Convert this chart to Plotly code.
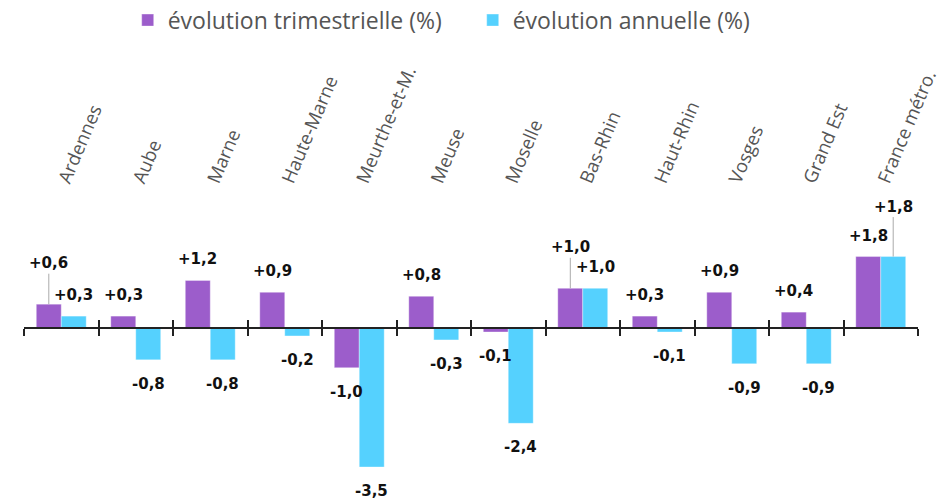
import plotly.graph_objects as go

categories = ["Ardennes", "Aube", "Marne", "Haute-Marne", "Meurthe-et-M.", "Meuse",
              "Moselle", "Bas-Rhin", "Haut-Rhin", "Vosges", "Grand Est", "France métro."]
evol_trim = [0.6, 0.3, 1.2, 0.9, -1.0, 0.8, -0.1, 1.0, 0.3, 0.9, 0.4, 1.8]
evol_annu = [0.3, -0.8, -0.8, -0.2, -3.5, -0.3, -2.4, 1.0, -0.1, -0.9, -0.9, 1.8]
series_names = ["évolution trimestrielle (%)", "évolution annuelle (%)"]

PURPLE = "#9c5dcb"
CYAN = "#55d1fe"
Y_RANGE = [-4.23, 3.35]
# labels lifted with a leader line: (series index, category) -> pixel lift
LEADERS = {(0, "Ardennes"): 41, (0, "Bas-Rhin"): 41, (1, "France métro."): 50}


def fmt(v):
    s = f"{abs(v):.1f}".replace(".", ",")
    return ("+" if v >= 0 else "-") + s


fig = go.Figure()
for name, vals, col in [(series_names[0], evol_trim, PURPLE), (series_names[1], evol_annu, CYAN)]:
    fig.add_trace(go.Bar(x=categories, y=vals, name=name,
                         marker=dict(color=col, line=dict(color="rgba(255,255,255,0.35)", width=1)),
                         hoverinfo="skip"))

# helper traces so the zero-line axes know the categories
for ax in ["x2", "x3"]:
    fig.add_trace(go.Scatter(x=categories, y=[0] * len(categories), mode="none",
                             xaxis=ax, yaxis="y", showlegend=False, hoverinfo="skip"))

annotations = []
half = 12.45
for si, vals in enumerate([evol_trim, evol_annu]):
    xs = -half if si == 0 else half
    for cat, v in zip(categories, vals):
        lift = LEADERS.get((si, cat))
        font = dict(family="DejaVu Sans", size=15, color="#111111")
        if lift:
            annotations.append(dict(x=cat, y=v, xref="x", yref="y", text="<b>" + fmt(v) + "</b>",
                                    showarrow=True, arrowhead=0, arrowwidth=1, arrowcolor="#aaaaaa",
                                    ax=0, ay=-lift, xshift=xs, font=font, standoff=0))
        else:
            annotations.append(dict(x=cat, y=v, xref="x", yref="y", text="<b>" + fmt(v) + "</b>",
                                    showarrow=False, xshift=xs, yshift=21 if v >= 0 else -24,
                                    font=font))

zero_pos = (0 - Y_RANGE[0]) / (Y_RANGE[1] - Y_RANGE[0])
axis_common = dict(type="category", categoryorder="array", categoryarray=categories,
                   range=[-0.5, len(categories) - 0.5], automargin=False)

fig.update_layout(
    width=944, height=501,
    margin=dict(l=24, r=26, t=195, b=5, autoexpand=False),
    paper_bgcolor="white", plot_bgcolor="white",
    barmode="group", bargap=0.33, bargroupgap=0,
    font=dict(family="Open Sans", color="#555555"),
    xaxis=dict(**axis_common, side="top", tickangle=-67, showgrid=False, showline=False,
               ticks="", tickfont=dict(size=18.5, color="#555555")),
    xaxis2=dict(**axis_common, overlaying="x", anchor="free", position=zero_pos,
                showline=True, linecolor="#222222", linewidth=2, ticks="outside",
                tickson="boundaries", ticklen=7, tickwidth=2, tickcolor="#222222",
                showticklabels=False, showgrid=False, zeroline=False),
    xaxis3=dict(**axis_common, overlaying="x", anchor="free", position=zero_pos,
                showline=False, ticks="inside", tickson="boundaries", ticklen=8,
                tickwidth=2, tickcolor="#222222", showticklabels=False, showgrid=False,
                zeroline=False),
    yaxis=dict(range=Y_RANGE, visible=False, showgrid=False, zeroline=False, automargin=False),
    legend=dict(orientation="h", x=0.116, xanchor="left", y=1.581, yanchor="middle",
                font=dict(size=23, color="#555555"), itemclick=False, entrywidth=300),
    annotations=annotations,
    showlegend=True,
)

fig.write_html("out.html", config={"displayModeBar": False},
               post_script="document.body.style.margin='0';")
